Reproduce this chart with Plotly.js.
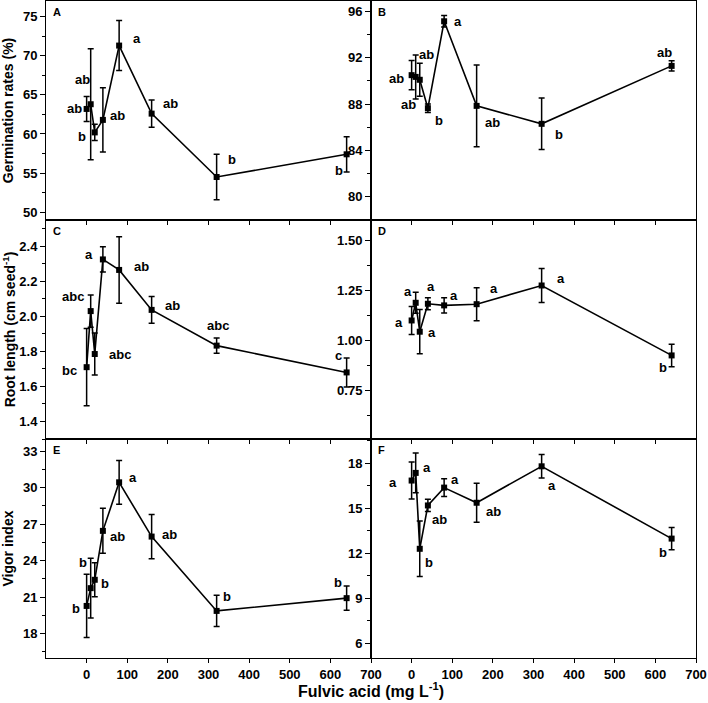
<!DOCTYPE html>
<html>
<head>
<meta charset="utf-8">
<script src="https://cdn.plot.ly/plotly-3.0.1.min.js"></script>
<style>html,body{margin:0;padding:0;background:#fff;}#chart{width:708px;height:703px;}</style>
</head>
<body>
<div id="chart"></div>
<script>
// ---- data ----
const doses = [0, 10, 20, 40, 80, 160, 320, 640];
const xTicks = [0, 100, 200, 300, 400, 500, 600, 700];

const germA = [63.2, 63.8, 60.2, 61.8, 71.3, 62.6, 54.5, 57.4];
const germAErr = [1.6, 7.1, 1.05, 4.1, 3.2, 1.75, 2.9, 2.25];
const germALetters = ['ab', 'ab', 'b', 'ab', 'a', 'ab', 'b', 'b'];

const germB = [90.5, 90.35, 90.1, 87.65, 95.15, 87.85, 86.3, 91.3];
const germBErr = [1.27, 1.9, 1.43, 0.37, 0.5, 3.53, 2.22, 0.45];
const germBLetters = ['ab', 'ab', 'ab', 'b', 'a', 'ab', 'b', 'ab'];

const rootC = [1.71, 2.03, 1.785, 2.325, 2.265, 2.037, 1.833, 1.68];
const rootCErr = [0.22, 0.092, 0.12, 0.072, 0.19, 0.077, 0.044, 0.083];
const rootCLetters = ['bc', 'abc', 'abc', 'a', 'ab', 'ab', 'abc', 'c'];

const rootD = [1.10, 1.188, 1.044, 1.183, 1.175, 1.181, 1.274, 0.926];
const rootDErr = [0.07, 0.052, 0.11, 0.03, 0.038, 0.082, 0.084, 0.056];
const rootDLetters = ['a', 'a', 'a', 'a', 'a', 'a', 'a', 'b'];

const vigorE = [20.28, 21.74, 22.43, 26.45, 30.44, 25.98, 19.87, 20.92];
const vigorEErr = [2.6, 2.45, 1.4, 1.85, 1.8, 1.82, 1.28, 0.99];
const vigorELetters = ['b', 'b', 'b', 'ab', 'a', 'ab', 'b', 'b'];

const vigorF = [16.83, 17.34, 12.28, 15.17, 16.36, 15.35, 17.78, 12.96];
const vigorFErr = [1.23, 1.33, 1.85, 0.41, 0.59, 1.3, 0.78, 0.74];
const vigorFLetters = ['a', 'a', 'b', 'ab', 'a', 'ab', 'a', 'b'];

const panelNames = ['A', 'B', 'C', 'D', 'E', 'F'];
const yTitles = ['Germination rates (%)', '', 'Root length (cm seed<sup>-1</sup>)', '', 'Vigor index', ''];
const xTitle = 'Fulvic acid (mg L<sup>-1</sup>)';

// ---- styling / placement (not data) ----
const FONT = 'Liberation Sans, Arial, sans-serif';
const panels = [
  {y: germA, e: germAErr, l: germALetters, range: [49, 77], dtick: 5, fmt: 'd',
   off: [[-12,0],[-8,-25],[-13,4],[15,-4],[18,-7],[19,-10],[15,-17],[-8,16]]},
  {y: germB, e: germBErr, l: germBLetters, range: [78, 96.9], dtick: 4, fmt: 'd',
   off: [[-15,3],[-7,28],[7,-25],[11,12],[14,0],[16,17],[17,11],[-7,-13]]},
  {y: rootC, e: rootCErr, l: rootCLetters, range: [1.3, 2.55], dtick: 0.2, fmt: '.1f',
   off: [[-17,3],[-18,-15],[25,0],[-14,-5],[22,-3],[21,-4],[1,-20],[-8,-17]]},
  {y: rootD, e: rootDErr, l: rootDLetters, range: [0.51, 1.6], dtick: 0.25, fmt: '.2f',
   off: [[-13,2],[-8,-11],[12,1],[3,-17],[10,-10],[17,-16],[19,-7],[-9,12]]},
  {y: vigorE, e: vigorEErr, l: vigorELetters, range: [16, 34], dtick: 3, fmt: 'd',
   off: [[-11,3],[-8,-26],[10,4],[15,6],[14,-5],[18,-2],[10,-14],[-9,-16]]},
  {y: vigorF, e: vigorFErr, l: vigorFLetters, range: [5, 19.6], dtick: 3, fmt: 'd',
   off: [[-19,2],[11,-5],[9,14],[12,14],[11,-8],[17,9],[10,19],[-9,14]]}
];

const traces = [];
const annotations = [];
const layout = {
  width: 708, height: 703,
  margin: {l: 46, r: 12, t: 1, b: 45},
  paper_bgcolor: '#fff', plot_bgcolor: '#fff',
  showlegend: false,
  font: {family: FONT, color: '#000', size: 13, weight: 700},
  annotations: annotations
};

panels.forEach((p, i) => {
  const n = i + 1;
  const col = i % 2, row = Math.floor(i / 2);
  const xa = 'x' + (n === 1 ? '' : n), ya = 'y' + (n === 1 ? '' : n);
  const xKey = 'xaxis' + (n === 1 ? '' : n), yKey = 'yaxis' + (n === 1 ? '' : n);
  traces.push({
    type: 'scatter', mode: 'lines+markers', x: doses, y: p.y, xaxis: xa, yaxis: ya,
    line: {color: '#000', width: 1.6},
    marker: {symbol: 'square', size: 6, color: '#000'},
    error_y: {type: 'data', array: p.e, visible: true, color: '#000', thickness: 1.5, width: 3},
    cliponaxis: false
  });
  layout[xKey] = {
    domain: col === 0 ? [0, 0.5] : [0.5, 1],
    anchor: ya, range: [-100, 700],
    tickmode: 'array', tickvals: xTicks, ticktext: xTicks.map(String),
    showticklabels: row === 2,
    ticks: 'outside', ticklen: 4, tickwidth: 1, tickcolor: '#000',
    showline: true, linecolor: '#000', linewidth: 1, mirror: true,
    showgrid: false, zeroline: false,
    tickfont: {family: FONT, size: 13, color: '#000', weight: 700}
  };
  const yax = {
    domain: [(2 - row) / 3, (3 - row) / 3],
    anchor: xa, range: p.range, dtick: p.dtick, tick0: 0, tickformat: p.fmt,
    ticks: 'outside', ticklen: 5, tickwidth: 1, tickcolor: '#000',
    minor: {dtick: p.dtick / 2, ticks: 'outside', ticklen: 3, tickcolor: '#000', tickwidth: 1},
    showline: true, linecolor: '#000', linewidth: 1, mirror: true,
    showgrid: false, zeroline: false,
    tickfont: {family: FONT, size: 13, color: '#000', weight: 700}
  };
  if (yTitles[i]) {
    yax.title = {text: yTitles[i], font: {family: FONT, size: 14, color: '#000', weight: 700}, standoff: 8};
  }
  layout[yKey] = yax;
  // panel letter
  annotations.push({
    text: panelNames[i], xref: xa + ' domain', yref: ya + ' domain', x: 0, y: 1,
    xanchor: 'left', yanchor: 'top', xshift: 5, yshift: -3, showarrow: false,
    font: {family: FONT, size: 11, color: '#000', weight: 700}
  });
  // significance letters
  p.l.forEach((t, k) => {
    annotations.push({
      text: t, xref: xa, yref: ya, x: doses[k], y: p.y[k],
      xshift: p.off[k][0], yshift: -p.off[k][1], showarrow: false,
      xanchor: 'center', yanchor: 'middle',
      font: {family: FONT, size: 13, color: '#000', weight: 700}
    });
  });
});

annotations.push({
  text: xTitle, xref: 'paper', yref: 'paper', x: 0.5, y: 0,
  xanchor: 'center', yanchor: 'bottom', yshift: -44, showarrow: false,
  font: {family: FONT, size: 16, color: '#000', weight: 700}
});

Plotly.newPlot('chart', traces, layout, {displayModeBar: false, staticPlot: true});
</script>
</body>
</html>
